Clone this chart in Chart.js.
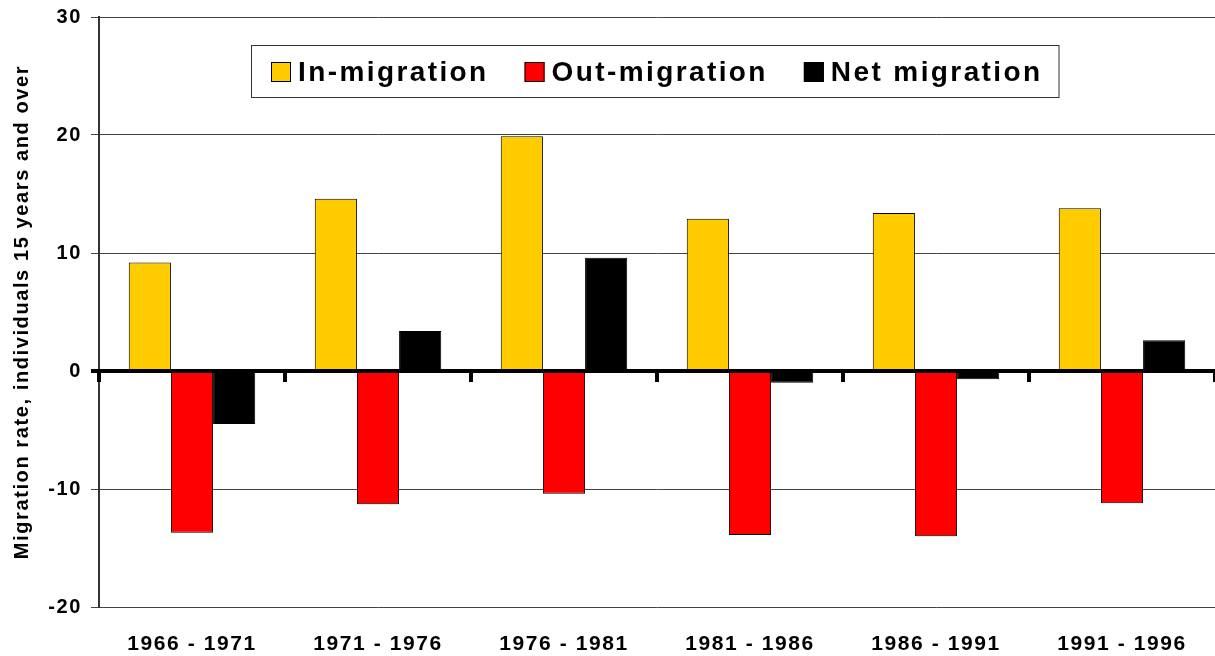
<!DOCTYPE html>
<html>
<head>
<meta charset="utf-8">
<script src="https://cdn.jsdelivr.net/npm/chart.js@4.4.1/dist/chart.umd.min.js"></script>
<style>
  html, body { margin: 0; padding: 0; background: #fff; }
  canvas { display: block; }
</style>
</head>
<body>
<canvas id="migrationChart" width="1215" height="656"></canvas>
<script>
const periods = ['1966 - 1971', '1971 - 1976', '1976 - 1981', '1981 - 1986', '1986 - 1991', '1991 - 1996'];
const seriesNames = ['In-migration', 'Out-migration', 'Net migration'];
const inMigration = [9.2, 14.6, 19.9, 12.9, 13.4, 13.8];
const outMigration = [-13.7, -11.3, -10.4, -13.9, -14.0, -11.2];
const netMigration = [-4.5, 3.4, 9.6, -1.0, -0.7, 2.6];
const yMin = -20;
const yMax = 30;
const yStep = 10;

const FONT = 'Arial, "Liberation Sans", sans-serif';

// letter spacing for all the chart text (the original is rather wide)
const spacingPlugin = {
    id: 'spacing',
    beforeDraw(chart) {
        chart.ctx.letterSpacing = '1.6px';
    }
};

// thick zero line plus the category tick marks hanging below it
const zeroAxisPlugin = {
    id: 'zeroAxis',
    afterDatasetsDraw(chart) {
        const { ctx, chartArea, scales: { x, y } } = chart;
        const y0 = y.getPixelForValue(0);
        ctx.save();
        ctx.fillStyle = '#000';
        ctx.fillRect(chartArea.left - 8, y0 - 2, chartArea.right - chartArea.left + 8, 4);
        for (let i = 0; i <= periods.length; i++) {
            let bx;
            if (i === 0) bx = chartArea.left;
            else if (i === periods.length) bx = chartArea.right;
            else bx = (x.getPixelForValue(i - 1) + x.getPixelForValue(i)) / 2;
            ctx.fillRect(bx - 2, y0, 4, 11);
        }
        ctx.restore();
    }
};

// boxed legend sitting inside the plot area
const boxLegendPlugin = {
    id: 'boxLegend',
    afterDraw(chart) {
        const { ctx, chartArea } = chart;
        ctx.save();
        ctx.font = 'bold 28px ' + FONT;
        ctx.letterSpacing = '2.4px';
        const sq = 20, gap = 7, itemGap = 36, padL = 20, padR = 16, boxH = 52;
        const items = chart.data.datasets.map(ds => ({
            label: ds.label,
            color: ds.backgroundColor,
            w: ctx.measureText(ds.label).width
        }));
        let total = padL + padR;
        items.forEach((it, i) => { total += sq + gap + it.w + (i ? itemGap : 0); });
        const left = Math.round((chartArea.left + chartArea.right - total) / 2) - 2;
        const top = chartArea.top + 28;

        ctx.fillStyle = '#fff';
        ctx.fillRect(left, top, total, boxH);
        ctx.strokeStyle = '#333';
        ctx.lineWidth = 1;
        ctx.strokeRect(left + 0.5, top + 0.5, total, boxH);

        let cx = left + padL;
        ctx.textBaseline = 'alphabetic';
        ctx.textAlign = 'left';
        items.forEach((it, i) => {
            if (i) cx += itemGap;
            ctx.fillStyle = it.color;
            ctx.fillRect(cx, top + 17, sq, sq);
            ctx.strokeStyle = '#000';
            ctx.strokeRect(cx + 0.5, top + 17.5, sq - 1, sq - 1);
            cx += sq + gap;
            ctx.fillStyle = '#000';
            ctx.fillText(it.label, cx, top + 36);
            cx += it.w;
        });
        ctx.restore();
    }
};

const ctx = document.getElementById('migrationChart').getContext('2d');

const migrationChart = new Chart(ctx, {
    type: 'bar',
    data: {
        labels: periods,
        datasets: [
            { label: seriesNames[0], data: inMigration, backgroundColor: '#FFCC00' },
            { label: seriesNames[1], data: outMigration, backgroundColor: '#FF0000' },
            { label: seriesNames[2], data: netMigration, backgroundColor: '#000000' }
        ]
    },
    options: {
        responsive: false,
        devicePixelRatio: 1,
        animation: false,
        layout: { padding: { top: 17, right: 0, bottom: 0, left: 0 } },
        datasets: {
            bar: {
                borderColor: '#000',
                borderWidth: 1,
                categoryPercentage: 0.68,
                barPercentage: 1.0
            }
        },
        plugins: {
            legend: { display: false },
            tooltip: { enabled: false }
        },
        scales: {
            x: {
                grid: { display: false },
                border: { display: false },
                ticks: {
                    color: '#000',
                    padding: 17,
                    maxRotation: 0,
                    autoSkip: false,
                    font: { family: FONT, size: 21, weight: 'bold' }
                },
                afterFit(scale) { scale.height = 49; }
            },
            y: {
                min: yMin,
                max: yMax,
                grid: {
                    color: '#444',
                    lineWidth: 1,
                    tickLength: 8
                },
                border: { color: '#333', width: 2 },
                ticks: {
                    stepSize: yStep,
                    color: '#000',
                    padding: 9,
                    font: { family: FONT, size: 20, weight: 'bold' }
                },
                title: {
                    display: true,
                    text: 'Migration rate, individuals 15 years and over',
                    color: '#000',
                    padding: { top: 10, bottom: 0 },
                    font: { family: FONT, size: 20, weight: 'bold' }
                },
                afterFit(scale) {
                    scale.width = 99;
                    scale.paddingTop = 0;
                    scale.paddingBottom = 0;
                }
            }
        }
    },
    plugins: [spacingPlugin, zeroAxisPlugin, boxLegendPlugin]
});
</script>
</body>
</html>
